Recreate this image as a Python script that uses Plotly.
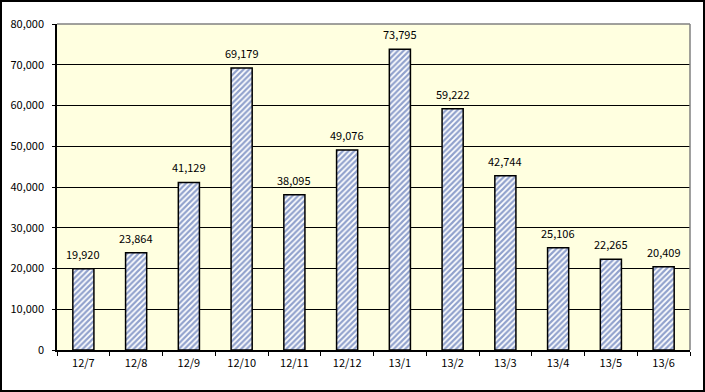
import plotly.graph_objects as go

categories = ["12/7", "12/8", "12/9", "12/10", "12/11", "12/12", "13/1", "13/2", "13/3", "13/4", "13/5", "13/6"]
values = [19920, 23864, 41129, 69179, 38095, 49076, 73795, 59222, 42744, 25106, 22265, 20409]
y_ticks = [0, 10000, 20000, 30000, 40000, 50000, 60000, 70000, 80000]
y_tick_labels = ["0", "10,000", "20,000", "30,000", "40,000", "50,000", "60,000", "70,000", "80,000"]

W, H = 705, 392
L, R, T, B = 57, 15, 24, 42
pw, ph = W - L - R, H - T - B

font_family = "Noto Sans CJK JP, DejaVu Sans, sans-serif"

fig = go.Figure()
fig.add_trace(go.Bar(
    x=categories,
    y=values,
    width=0.4,
    marker=dict(
        color="white",
        line=dict(color="black", width=1.5),
        pattern=dict(shape="/", fgcolor="#22449a", bgcolor="white", size=4, solidity=0.55),
    ),
    cliponaxis=False,
))

annotations = [
    dict(x=c, y=v, xref="x", yref="y", text=f"{v:,}", showarrow=False,
         yanchor="bottom", yshift=5, font=dict(size=11, color="black", family=font_family))
    for c, v in zip(categories, values)
]

def px_x(p):
    return (p - L) / pw

def px_y(p):
    return (H - B - p) / ph

shapes = [
    dict(type="rect", xref="paper", yref="paper",
         x0=px_x(1), x1=px_x(W - 1), y0=px_y(H - 1), y1=px_y(1),
         line=dict(color="black", width=2), fillcolor="rgba(0,0,0,0)", layer="above"),
    dict(type="line", xref="paper", yref="paper", x0=0, x1=1, y0=1, y1=1,
         line=dict(color="#808080", width=1.5)),
    dict(type="line", xref="paper", yref="paper", x0=1, x1=1, y0=0, y1=1,
         line=dict(color="#808080", width=1.5)),
]

fig.update_layout(
    width=W, height=H,
    margin=dict(l=L, r=R, t=T, b=B, pad=0, autoexpand=False),
    paper_bgcolor="white",
    plot_bgcolor="#ffffe0",
    showlegend=False,
    bargap=0.6,
    font=dict(family=font_family, size=11, color="black"),
    shapes=shapes,
    annotations=annotations,
    xaxis=dict(
        type="category",
        automargin=False,
        showline=True, linecolor="black", linewidth=1.5,
        ticks="outside", ticklen=4, tickcolor="black", tickwidth=1,
        tickson="boundaries",
        showgrid=False,
        ticklabelstandoff=2,
        tickfont=dict(size=11, family=font_family),
    ),
    yaxis=dict(
        automargin=False,
        range=[0, 80000],
        tickvals=y_ticks, ticktext=y_tick_labels,
        showline=True, linecolor="black", linewidth=1.5,
        ticks="outside", ticklen=3, tickcolor="black",
        showgrid=True, gridcolor="black", gridwidth=1,
        zeroline=False,
        ticklabelstandoff=6,
        tickfont=dict(size=11, family=font_family),
    ),
)

fig.write_html(
    "out.html",
    config={"displayModeBar": False},
    post_script="document.body.style.margin='0';document.body.style.overflow='hidden';",
)
